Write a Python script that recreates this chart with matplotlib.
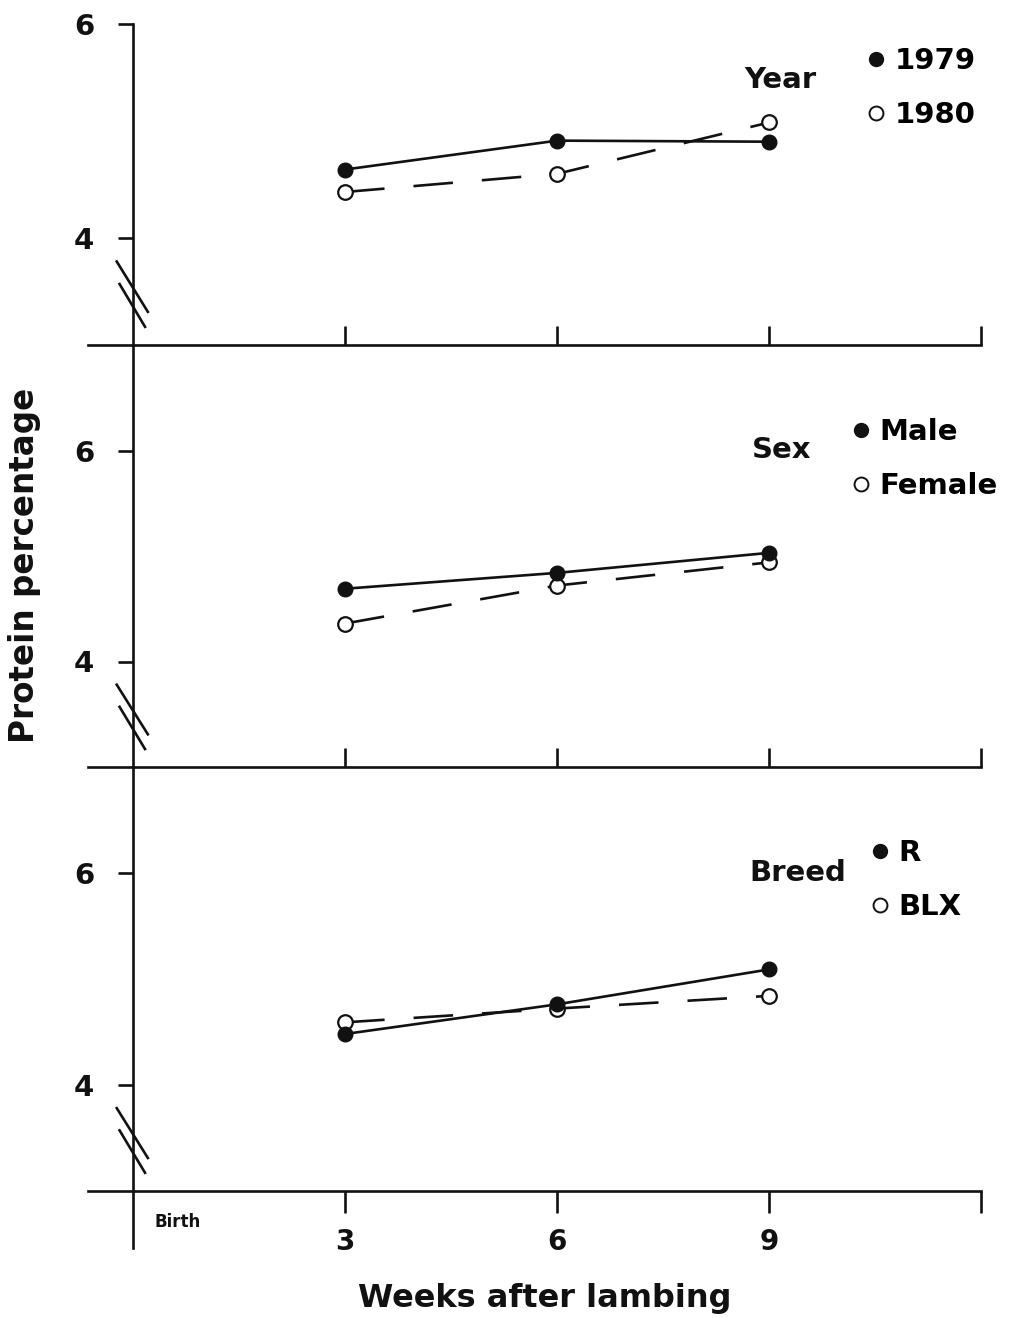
import matplotlib
matplotlib.use('Agg')
import matplotlib.pyplot as plt
from matplotlib.lines import Line2D

# ---------------- data ----------------
weeks = [3, 6, 9]
year_1979 = [4.64, 4.91, 4.90]
year_1980 = [4.43, 4.60, 5.08]
sex_male = [4.69, 4.84, 5.03]
sex_female = [4.36, 4.72, 4.94]
breed_r = [4.48, 4.76, 5.09]
breed_blx = [4.59, 4.72, 4.84]

panel_titles = ['Year', 'Sex', 'Breed']
filled_labels = ['1979', 'Male', 'R']
open_labels = ['1980', 'Female', 'BLX']
filled_series = [year_1979, sex_male, breed_r]
open_series = [year_1980, sex_female, breed_blx]

y_ticks = [4, 6]
y_tick_labels = ['4', '6']
x_ticks = [3, 6, 9, 12]
x_tick_labels = ['3', '6', '9', '']
birth_label = 'Birth'
x_label = 'Weeks after lambing'
y_label = 'Protein percentage'

# ---------------- layout ----------------
plt.rcParams['font.family'] = ['DejaVu Sans']
W, H = 1016, 1318
fig = plt.figure(figsize=(W / 100, H / 100), dpi=100)
fig.patch.set_facecolor('white')

def fx(px):
    return px / W

def fy(py):
    return 1 - py / H

INK = '#111111'
x0px, ppu_x = 133, 70.7
xlim = (-0.7, 12.3)
left = fx(x0px + xlim[0] * ppu_x)
right = fx(x0px + xlim[1] * ppu_x)

panels = [
    dict(top=24, bottom=345, ylim=(3, 6), title_xy=(780, 80), leg_xy=(867, 47)),
    dict(top=345, bottom=767, ylim=(3, 7), title_xy=(782, 450), leg_xy=(852, 418)),
    dict(top=767, bottom=1248, ylim=(2.46, 7), title_xy=(798, 873), leg_xy=(871, 839)),
]

MS = 10.5
LW = 1.9

for i, p in enumerate(panels):
    ax = fig.add_axes([left, fy(p['bottom']), right - left, (p['bottom'] - p['top']) / H])
    ax.set_xlim(xlim)
    ax.set_ylim(p['ylim'])
    ax.patch.set_visible(False)
    for s in ('top', 'right'):
        ax.spines[s].set_visible(False)
    ax.spines['left'].set_position(('data', 0))
    ax.spines['left'].set_bounds(p['ylim'][0], p['ylim'][1])
    ax.spines['bottom'].set_position(('data', 3))
    ax.spines['bottom'].set_bounds(-0.64, 12)
    for s in ('left', 'bottom'):
        ax.spines[s].set_linewidth(LW)
        ax.spines[s].set_color(INK)

    ax.set_yticks(y_ticks)
    ax.set_yticklabels(y_tick_labels, fontsize=21, fontweight='bold')
    ax.tick_params(axis='y', direction='out', length=11, width=LW, pad=17, colors=INK)
    ax.set_xticks(x_ticks)
    if i < 2:
        ax.tick_params(axis='x', direction='in', length=14, width=LW,
                       labelbottom=False, colors=INK)
    else:
        ax.set_xticklabels(x_tick_labels, fontsize=20, fontweight='bold')
        ax.tick_params(axis='x', direction='out', length=16, width=LW, pad=11, colors=INK)
        ax.text(0.31, 2.71, birth_label, ha='left', va='center',
                fontsize=12, fontweight='bold', color=INK)

    # axis break marks
    ax.plot([-0.23, 0.21], [3.78, 3.31], color=INK, lw=LW, clip_on=False)
    ax.plot([-0.19, 0.17], [3.57, 3.17], color=INK, lw=LW, clip_on=False)

    # data
    z_open = 5 if i == 0 else 3
    ax.plot(weeks, open_series[i], color=INK, lw=LW, dashes=(15, 11),
            marker='o', ms=MS, mfc='white', mec=INK, mew=1.6, clip_on=False, zorder=z_open)
    ax.plot(weeks, filled_series[i], color=INK, lw=LW, marker='o', ms=MS,
            mfc=INK, mec=INK, clip_on=False, zorder=4)

    # legend
    h_f = Line2D([], [], ls='none', marker='o', ms=10, mfc=INK, mec=INK)
    h_o = Line2D([], [], ls='none', marker='o', ms=10, mfc='white', mec=INK, mew=1.4)
    ax.legend([h_f, h_o], [filled_labels[i], open_labels[i]], loc='upper left',
              bbox_to_anchor=(fx(p['leg_xy'][0]), fy(p['leg_xy'][1])),
              bbox_transform=fig.transFigure, frameon=False,
              prop=dict(weight='bold', size=21), handlelength=0.6,
              handletextpad=0.35, labelspacing=0.9, borderpad=0,
              borderaxespad=0, numpoints=1)
    fig.text(fx(p['title_xy'][0]), fy(p['title_xy'][1]), panel_titles[i],
             ha='center', va='center', fontsize=21, fontweight='bold', color=INK)

fig.text(fx(25), fy(565), y_label, rotation=90, ha='center', va='center',
         fontsize=23.5, fontweight='bold', color=INK)
fig.text(fx(545), fy(1298), x_label, ha='center', va='center',
         fontsize=23, fontweight='bold', color=INK)

fig.savefig('out.png', dpi=100, facecolor='white')
